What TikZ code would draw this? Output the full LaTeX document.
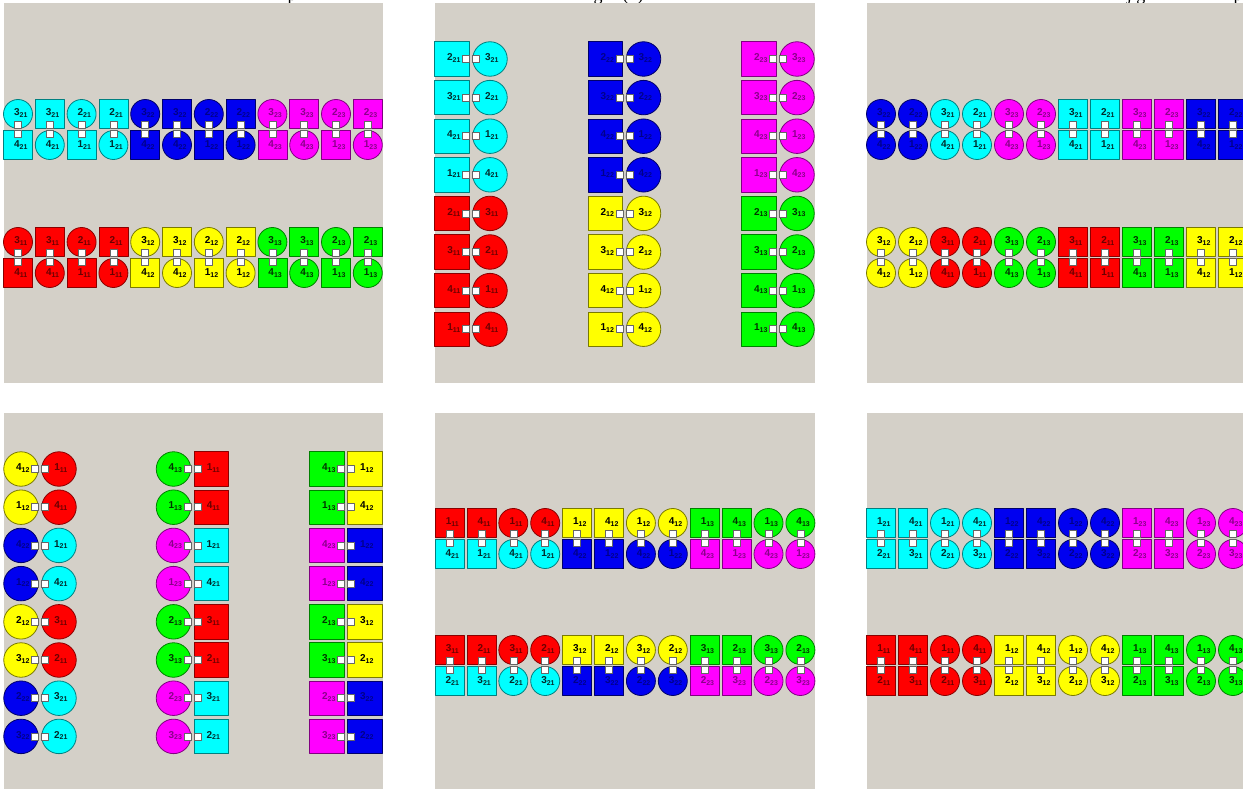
\documentclass[tikz,border=0pt]{standalone}
\usepackage{fontspec}
\setmainfont{Liberation Serif}
\setsansfont{Liberation Sans}
\definecolor{panelgray}{HTML}{D4D0C8}
\definecolor{c11}{HTML}{FF0000}\definecolor{d11}{HTML}{8A0000}\definecolor{t11}{HTML}{6A0000}
\definecolor{c12}{HTML}{FFFF00}\definecolor{d12}{HTML}{7A7A00}\definecolor{t12}{HTML}{000000}
\definecolor{c13}{HTML}{00FF00}\definecolor{d13}{HTML}{008000}\definecolor{t13}{HTML}{003300}
\definecolor{c21}{HTML}{00FFFF}\definecolor{d21}{HTML}{008080}\definecolor{t21}{HTML}{002A2A}
\definecolor{c22}{HTML}{0000F0}\definecolor{d22}{HTML}{00006A}\definecolor{t22}{HTML}{00008A}
\definecolor{c23}{HTML}{FF00FF}\definecolor{d23}{HTML}{800080}\definecolor{t23}{HTML}{8A008A}
% vertical pair: name, x, y of upper one, shape/digit/group upper, shape/digit/group lower
\newcommand{\vduo}[9]{%
  \node[#4, el=#6, minimum size=29pt] (#1u) at (#2,#3) {};
  \node[#7, el=#9, minimum size=29pt] (#1d) at (#2,#3+31) {};
  \node[lbl, text=t#6] (#1ut) at (#2+3,#3-1) {#5\textsubscript{#6}};
  \node[lbl, text=t#9] (#1dt) at (#2+3,#3+31) {#8\textsubscript{#9}};
  \node[plug, anchor=south] (#1up) at (#1u.south) {};
  \node[plug, anchor=north] (#1dp) at (#1d.north) {};
}
% horizontal pair: name, x of left one, y, shape/digit/group left, shape/digit/group right
\newcommand{\hduo}[9]{%
  \node[#4, el=#6, minimum size=34.5pt] (#1l) at (#2,#3) {};
  \node[#7, el=#9, minimum size=34.5pt] (#1r) at (#2+38,#3) {};
  \node[lbl, text=t#6] (#1lt) at (#2+2,#3-1) {#5\textsubscript{#6}};
  \node[lbl, text=t#9] (#1rt) at (#2+40,#3-1) {#8\textsubscript{#9}};
  \node[plug, anchor=east] (#1lp) at (#1l.east) {};
  \node[plug, anchor=west] (#1rp) at (#1r.west) {};
}
\begin{document}
\begin{tikzpicture}[x=1pt, y=-1pt, line join=round,
  crc/.style={circle}, sqr/.style={rectangle},
  el/.style={draw=d#1, fill=c#1, line width=0.8pt, inner sep=0pt},
  lbl/.style={font=\sffamily\bfseries\fontsize{10}{10}\selectfont, inner sep=0pt},
  plug/.style={draw=black!60, fill=white, line width=0.5pt, minimum size=7pt, inner sep=0pt},
  headtxt/.style={anchor=base, inner sep=0pt, font=\fontsize{18}{18}\selectfont}]
\useasboundingbox (0,0) rectangle (1243,789);
%%%%%%%%%%%%%%%%%%%%%%%%%%%%%%%%%
\node[headtxt] (capa) at (292,0.5) {p};
\node[headtxt] (capb) at (598,0.5) {g};
\node[headtxt] (capc) at (633,0.5) {(1)};
\node[headtxt] (capd) at (1136,0.5) {j g};
\node[headtxt] (cape) at (1238,0.5) {p};
%%%%%%%%%%%%%%%%%%%%%%%%%%%%%%%%%
\fill[panelgray] (4,3) rectangle (383,383);
\fill[panelgray] (435,3) rectangle (815,383);
\fill[panelgray] (867,3) rectangle (1243,383);
\fill[panelgray] (4,413) rectangle (383,789);
\fill[panelgray] (435,413) rectangle (815,789);
\fill[panelgray] (867,413) rectangle (1243,789);
%%%%%%%%%%%%%%%%%%%%%%%%%%%%%%%%% top left
\foreach \n/\sa/\da/\ba/\sb/\db/\bb [evaluate=\n as \x using 18+31.8*(\n-1)] in
  {1/crc/3/21/sqr/4/21, 2/sqr/3/21/crc/4/21, 3/crc/2/21/sqr/1/21, 4/sqr/2/21/crc/1/21,
   5/crc/3/22/sqr/4/22, 6/sqr/3/22/crc/4/22, 7/crc/2/22/sqr/1/22, 8/sqr/2/22/crc/1/22,
   9/crc/3/23/sqr/4/23, 10/sqr/3/23/crc/4/23, 11/crc/2/23/sqr/1/23, 12/sqr/2/23/crc/1/23}
  {\vduo{pa\n}{\x}{114}{\sa}{\da}{\ba}{\sb}{\db}{\bb}}
\foreach \n/\sa/\da/\ba/\sb/\db/\bb [evaluate=\n as \x using 18+31.8*(\n-1)] in
  {1/crc/3/11/sqr/4/11, 2/sqr/3/11/crc/4/11, 3/crc/2/11/sqr/1/11, 4/sqr/2/11/crc/1/11,
   5/crc/3/12/sqr/4/12, 6/sqr/3/12/crc/4/12, 7/crc/2/12/sqr/1/12, 8/sqr/2/12/crc/1/12,
   9/crc/3/13/sqr/4/13, 10/sqr/3/13/crc/4/13, 11/crc/2/13/sqr/1/13, 12/sqr/2/13/crc/1/13}
  {\vduo{pb\n}{\x}{242}{\sa}{\da}{\ba}{\sb}{\db}{\bb}}
%%%%%%%%%%%%%%%%%%%%%%%%%%%%%%%%% top middle
\foreach \n/\sa/\da/\ba/\sb/\db/\bb [evaluate=\n as \y using 59+38.6*(\n-1)] in
  {1/sqr/2/21/crc/3/21, 2/sqr/3/21/crc/2/21, 3/sqr/4/21/crc/1/21, 4/sqr/1/21/crc/4/21,
   5/sqr/2/11/crc/3/11, 6/sqr/3/11/crc/2/11, 7/sqr/4/11/crc/1/11, 8/sqr/1/11/crc/4/11}
  {\hduo{qa\n}{452}{\y}{\sa}{\da}{\ba}{\sb}{\db}{\bb}}
\foreach \n/\sa/\da/\ba/\sb/\db/\bb [evaluate=\n as \y using 59+38.6*(\n-1)] in
  {1/sqr/2/22/crc/3/22, 2/sqr/3/22/crc/2/22, 3/sqr/4/22/crc/1/22, 4/sqr/1/22/crc/4/22,
   5/sqr/2/12/crc/3/12, 6/sqr/3/12/crc/2/12, 7/sqr/4/12/crc/1/12, 8/sqr/1/12/crc/4/12}
  {\hduo{qb\n}{605.5}{\y}{\sa}{\da}{\ba}{\sb}{\db}{\bb}}
\foreach \n/\sa/\da/\ba/\sb/\db/\bb [evaluate=\n as \y using 59+38.6*(\n-1)] in
  {1/sqr/2/23/crc/3/23, 2/sqr/3/23/crc/2/23, 3/sqr/4/23/crc/1/23, 4/sqr/1/23/crc/4/23,
   5/sqr/2/13/crc/3/13, 6/sqr/3/13/crc/2/13, 7/sqr/4/13/crc/1/13, 8/sqr/1/13/crc/4/13}
  {\hduo{qc\n}{759}{\y}{\sa}{\da}{\ba}{\sb}{\db}{\bb}}
%%%%%%%%%%%%%%%%%%%%%%%%%%%%%%%%% top right
\foreach \n/\sa/\da/\ba/\sb/\db/\bb [evaluate=\n as \x using 881+32*(\n-1)] in
  {1/crc/3/22/crc/4/22, 2/crc/2/22/crc/1/22, 3/crc/3/21/crc/4/21, 4/crc/2/21/crc/1/21,
   5/crc/3/23/crc/4/23, 6/crc/2/23/crc/1/23, 7/sqr/3/21/sqr/4/21, 8/sqr/2/21/sqr/1/21,
   9/sqr/3/23/sqr/4/23, 10/sqr/2/23/sqr/1/23, 11/sqr/3/22/sqr/4/22, 12/sqr/2/22/sqr/1/22}
  {\vduo{ra\n}{\x}{114}{\sa}{\da}{\ba}{\sb}{\db}{\bb}}
\foreach \n/\sa/\da/\ba/\sb/\db/\bb [evaluate=\n as \x using 881+32*(\n-1)] in
  {1/crc/3/12/crc/4/12, 2/crc/2/12/crc/1/12, 3/crc/3/11/crc/4/11, 4/crc/2/11/crc/1/11,
   5/crc/3/13/crc/4/13, 6/crc/2/13/crc/1/13, 7/sqr/3/11/sqr/4/11, 8/sqr/2/11/sqr/1/11,
   9/sqr/3/13/sqr/4/13, 10/sqr/2/13/sqr/1/13, 11/sqr/3/12/sqr/4/12, 12/sqr/2/12/sqr/1/12}
  {\vduo{rb\n}{\x}{242}{\sa}{\da}{\ba}{\sb}{\db}{\bb}}
%%%%%%%%%%%%%%%%%%%%%%%%%%%%%%%%% bottom left
\foreach \n/\sa/\da/\ba/\sb/\db/\bb [evaluate=\n as \y using 469+38.2*(\n-1)] in
  {1/crc/4/12/crc/1/11, 2/crc/1/12/crc/4/11, 3/crc/4/22/crc/1/21, 4/crc/1/22/crc/4/21,
   5/crc/2/12/crc/3/11, 6/crc/3/12/crc/2/11, 7/crc/2/22/crc/3/21, 8/crc/3/22/crc/2/21}
  {\hduo{sa\n}{21}{\y}{\sa}{\da}{\ba}{\sb}{\db}{\bb}}
\foreach \n/\sa/\da/\ba/\sb/\db/\bb [evaluate=\n as \y using 469+38.2*(\n-1)] in
  {1/crc/4/13/sqr/1/11, 2/crc/1/13/sqr/4/11, 3/crc/4/23/sqr/1/21, 4/crc/1/23/sqr/4/21,
   5/crc/2/13/sqr/3/11, 6/crc/3/13/sqr/2/11, 7/crc/2/23/sqr/3/21, 8/crc/3/23/sqr/2/21}
  {\hduo{sb\n}{173.5}{\y}{\sa}{\da}{\ba}{\sb}{\db}{\bb}}
\foreach \n/\sa/\da/\ba/\sb/\db/\bb [evaluate=\n as \y using 469+38.2*(\n-1)] in
  {1/sqr/4/13/sqr/1/12, 2/sqr/1/13/sqr/4/12, 3/sqr/4/23/sqr/1/22, 4/sqr/1/23/sqr/4/22,
   5/sqr/2/13/sqr/3/12, 6/sqr/3/13/sqr/2/12, 7/sqr/2/23/sqr/3/22, 8/sqr/3/23/sqr/2/22}
  {\hduo{sc\n}{327}{\y}{\sa}{\da}{\ba}{\sb}{\db}{\bb}}
%%%%%%%%%%%%%%%%%%%%%%%%%%%%%%%%% bottom middle
\foreach \n/\sa/\da/\ba/\sb/\db/\bb [evaluate=\n as \x using 449.5+31.9*(\n-1)] in
  {1/sqr/1/11/sqr/4/21, 2/sqr/4/11/sqr/1/21, 3/crc/1/11/crc/4/21, 4/crc/4/11/crc/1/21,
   5/sqr/1/12/sqr/4/22, 6/sqr/4/12/sqr/1/22, 7/crc/1/12/crc/4/22, 8/crc/4/12/crc/1/22,
   9/sqr/1/13/sqr/4/23, 10/sqr/4/13/sqr/1/23, 11/crc/1/13/crc/4/23, 12/crc/4/13/crc/1/23}
  {\vduo{ta\n}{\x}{523}{\sa}{\da}{\ba}{\sb}{\db}{\bb}}
\foreach \n/\sa/\da/\ba/\sb/\db/\bb [evaluate=\n as \x using 449.5+31.9*(\n-1)] in
  {1/sqr/3/11/sqr/2/21, 2/sqr/2/11/sqr/3/21, 3/crc/3/11/crc/2/21, 4/crc/2/11/crc/3/21,
   5/sqr/3/12/sqr/2/22, 6/sqr/2/12/sqr/3/22, 7/crc/3/12/crc/2/22, 8/crc/2/12/crc/3/22,
   9/sqr/3/13/sqr/2/23, 10/sqr/2/13/sqr/3/23, 11/crc/3/13/crc/2/23, 12/crc/2/13/crc/3/23}
  {\vduo{tb\n}{\x}{650}{\sa}{\da}{\ba}{\sb}{\db}{\bb}}
%%%%%%%%%%%%%%%%%%%%%%%%%%%%%%%%% bottom right
\foreach \n/\sa/\da/\ba/\sb/\db/\bb [evaluate=\n as \x using 881+32*(\n-1)] in
  {1/sqr/1/21/sqr/2/21, 2/sqr/4/21/sqr/3/21, 3/crc/1/21/crc/2/21, 4/crc/4/21/crc/3/21,
   5/sqr/1/22/sqr/2/22, 6/sqr/4/22/sqr/3/22, 7/crc/1/22/crc/2/22, 8/crc/4/22/crc/3/22,
   9/sqr/1/23/sqr/2/23, 10/sqr/4/23/sqr/3/23, 11/crc/1/23/crc/2/23, 12/crc/4/23/crc/3/23}
  {\vduo{ua\n}{\x}{523}{\sa}{\da}{\ba}{\sb}{\db}{\bb}}
\foreach \n/\sa/\da/\ba/\sb/\db/\bb [evaluate=\n as \x using 881+32*(\n-1)] in
  {1/sqr/1/11/sqr/2/11, 2/sqr/4/11/sqr/3/11, 3/crc/1/11/crc/2/11, 4/crc/4/11/crc/3/11,
   5/sqr/1/12/sqr/2/12, 6/sqr/4/12/sqr/3/12, 7/crc/1/12/crc/2/12, 8/crc/4/12/crc/3/12,
   9/sqr/1/13/sqr/2/13, 10/sqr/4/13/sqr/3/13, 11/crc/1/13/crc/2/13, 12/crc/4/13/crc/3/13}
  {\vduo{ub\n}{\x}{650}{\sa}{\da}{\ba}{\sb}{\db}{\bb}}
%%%%%%%%%%%%%%%%%%%%%%%%%%%%%%%%%
\end{tikzpicture}
\end{document}
